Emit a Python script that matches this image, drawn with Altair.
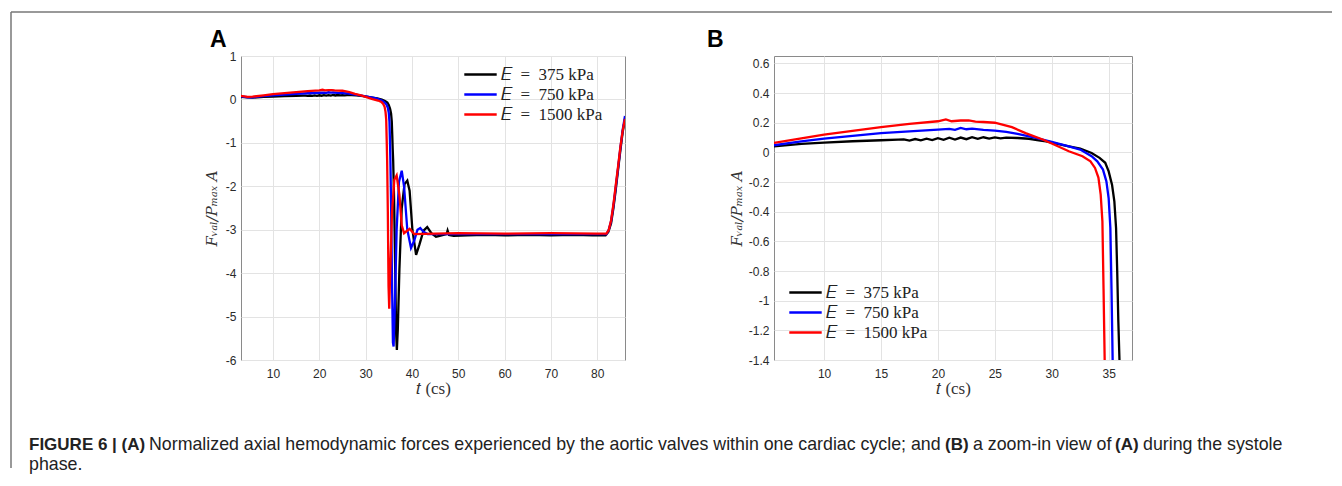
import altair as alt
import pandas as pd

# ---------------- data ----------------
series_names = ["\U0001D438\u2002=\u2002375 kPa", "\U0001D438\u2002=\u2002750 kPa", "\U0001D438\u2002=\u20021500 kPa"]
series_colors = ["#000000", "#0000ff", "#ff0000"]

t_375 = [3, 4.5, 5.6, 8, 10, 12.5, 15, 16.5, 17, 17.5, 18, 18.5, 19, 19.5, 20, 20.5, 21, 21.5, 22, 22.5,
         23, 23.5, 24, 24.5, 25, 25.5, 26, 27, 28, 29, 29.5, 30.5, 31.5, 32.5, 33.5, 34.2, 34.7, 35.0, 35.3,
         35.5, 35.65, 35.75, 35.85, 35.95, 36.15, 36.4, 36.6, 36.75, 36.95, 37.3, 37.8, 38.4, 39.0, 39.5,
         40.1, 40.9, 41.6, 42.5, 43.3, 44.2, 45.2, 46.0, 46.8, 47.5, 47.7, 48.0, 49, 52, 56, 60, 65, 70, 75,
         79, 81.8, 82.4, 83, 83.5, 84, 84.5, 85, 85.5, 86]
f_375 = [0.06, 0.045, 0.041, 0.058, 0.066, 0.075, 0.082, 0.086, 0.088, 0.08, 0.09, 0.081, 0.093, 0.083,
         0.096, 0.085, 0.099, 0.087, 0.1, 0.089, 0.102, 0.091, 0.102, 0.093, 0.101, 0.095, 0.1, 0.097, 0.092,
         0.08, 0.075, 0.057, 0.041, 0.026, -0.004, -0.037, -0.07, -0.128, -0.22, -0.33, -0.51, -0.8, -1.14,
         -1.4, -2.3, -4.0, -5.4, -5.77, -5.3, -3.9, -2.5, -1.95, -1.87, -2.1, -3.0, -3.58, -3.35, -3.02,
         -2.94, -3.08, -3.16, -3.14, -3.12, -3.1, -3.02, -3.12, -3.14, -3.13, -3.12, -3.13, -3.12, -3.13,
         -3.12, -3.13, -3.13, -3.05, -2.85, -2.5, -2.08, -1.62, -1.17, -0.75, -0.45]

t_750 = [3, 4.5, 5.6, 8, 10, 12.5, 15, 17.5, 20, 21, 21.5, 22, 22.5, 23, 24, 25, 26, 27, 28.5, 30, 31.5,
         32.5, 33.5, 34, 34.5, 34.8, 35.0, 35.15, 35.25, 35.35, 35.5, 35.7, 35.9, 36.05, 36.3, 36.7, 37.2,
         37.8, 38.3, 39.0, 39.8, 40.5, 41.2, 41.8, 42.5, 43.4, 45, 50, 60, 70, 80, 82, 82.5, 83, 83.5, 84,
         84.5, 85, 85.5, 86]
f_750 = [0.07, 0.05, 0.048, 0.075, 0.093, 0.112, 0.13, 0.142, 0.154, 0.158, 0.152, 0.165, 0.156, 0.16,
         0.152, 0.147, 0.138, 0.125, 0.1, 0.071, 0.041, 0.019, -0.026, -0.06, -0.116, -0.195, -0.31, -0.51,
         -0.92, -1.4, -2.4, -4.2, -5.6, -5.69, -4.8, -3.0, -1.9, -1.64, -2.0, -3.0, -3.42, -3.25, -3.0,
         -2.96, -3.05, -3.1, -3.1, -3.1, -3.1, -3.1, -3.1, -3.1, -3.0, -2.8, -2.45, -2.02, -1.58, -1.12,
         -0.7, -0.38]

t_1500 = [3, 4.5, 5.6, 8, 10, 12.5, 15, 17.5, 20, 20.7, 21.2, 22, 22.7, 23.3, 24, 25, 26.5, 27.7, 29.2, 30,
          31.5, 32.7, 33.4, 33.8, 34.1, 34.3, 34.45, 34.55, 34.65, 34.8, 34.95, 35.1, 35.3, 35.7, 36.2,
          36.7, 37.3, 37.8, 38.3, 38.9, 39.5, 40.5, 45, 50, 60, 70, 80, 82, 82.5, 83, 83.5, 84, 84.5, 85,
          85.5, 86]
f_1500 = [0.085, 0.06, 0.064, 0.095, 0.12, 0.145, 0.17, 0.192, 0.21, 0.222, 0.21, 0.215, 0.216, 0.208,
          0.205, 0.2, 0.17, 0.13, 0.087, 0.06, 0.008, -0.026, -0.06, -0.105, -0.17, -0.285, -0.465, -0.92,
          -1.4, -2.6, -4.3, -4.82, -4.0, -2.6, -1.85, -1.75, -2.2, -2.9, -3.08, -3.03, -2.98, -3.1, -3.09,
          -3.08, -3.09, -3.08, -3.09, -3.09, -3.0, -2.78, -2.42, -1.98, -1.55, -1.1, -0.72, -0.45]

xticks_A = [10, 20, 30, 40, 50, 60, 70, 80]
yticks_A = [-6, -5, -4, -3, -2, -1, 0, 1]
xticks_B = [10, 15, 20, 25, 30, 35]
yticks_B = [-1.4, -1.2, -1, -0.8, -0.6, -0.4, -0.2, 0, 0.2, 0.4, 0.6]

panel_labels = ["A", "B"]
caption_line1 = ["FIGURE 6 | (A)",
                 "Normalized axial hemodynamic forces experienced by the aortic valves within one cardiac cycle; and",
                 "(B)", "a zoom-in view of", "(A)", "during the systole"]
caption_line2 = "phase."

rows = []
k = 0
for name, ts, fs in zip(series_names, [t_375, t_750, t_1500], [f_375, f_750, f_1500]):
    for t, f in zip(ts, fs):
        rows.append({"series": name, "t": t, "F": f, "ord": k})
        k += 1
df = pd.DataFrame(rows)

one = pd.DataFrame({"k": [0]})

# ---------------- styles ----------------
minus_fix = "replace(datum.label, '\u2212', '-')"

def x_axis(vals):
    return alt.Axis(values=vals, grid=True, gridColor="#e3e3e3", ticks=False, domain=False,
                    labelFont="Liberation Sans", labelFontSize=12, labelColor="#2a2a2a",
                    labelPadding=8, labelExpr=minus_fix, format=".2~f",
                    title="\U0001D461 (cs)", titleFont="Liberation Serif", titleFontSize=17,
                    titleFontWeight="normal", titleColor="#333333",
                    titleBaseline="alphabetic", titleY=33)

def y_axis(vals, tx):
    return alt.Axis(values=vals, grid=True, gridColor="#e3e3e3", ticks=False, domain=False,
                    labelFont="Liberation Sans", labelFontSize=12, labelColor="#2a2a2a",
                    labelPadding=5, labelExpr=minus_fix, format=".2~f",
                    title="F\u1d65\u2090\u2097/P\u2098\u2090\u2093 A", titleFont="DejaVu Serif",
                    titleFontStyle="italic", titleFontWeight="normal", titleFontSize=15,
                    titleColor="#333333", titleX=tx, titleY=152)

def legend(lx, ly):
    return alt.Legend(orient="none", legendX=lx, legendY=ly, title=None,
                      symbolType="M-2.7,0H2.7", symbolSize=144, symbolStrokeWidth=2.5,
                      labelFont="Liberation Serif", labelFontSize=17, labelColor="#222222",
                      labelOffset=12, rowPadding=2, padding=0)

color_scale = alt.Scale(domain=series_names, range=series_colors)

def lines(xdom, ydom, xt, yt, tx, lx, ly):
    return alt.Chart(df).mark_line(strokeWidth=2.3, clip=True).encode(
        x=alt.X("t:Q", scale=alt.Scale(domain=xdom, nice=False, zero=False), axis=x_axis(xt)),
        y=alt.Y("F:Q", scale=alt.Scale(domain=ydom, nice=False, zero=False), axis=y_axis(yt, tx)),
        color=alt.Color("series:N", scale=color_scale, legend=legend(lx, ly)),
        order=alt.Order("ord:Q"),
    )

def panel_label(txt, x, y):
    return alt.Chart(pd.DataFrame({"label": [txt]})).mark_text(
        font="Liberation Sans", fontWeight="bold", fontSize=23, align="left",
        baseline="alphabetic", color="#000000").encode(
        x=alt.value(x), y=alt.value(y), text="label:N")

def cap_text(txt, x, y, bold):
    return alt.Chart(pd.DataFrame({"s": [txt]})).mark_text(
        font="Liberation Sans", fontWeight="bold" if bold else "normal",
        fontSize=17 if bold else 17.8,
        align="left", baseline="alphabetic", color="#222222").encode(
        x=alt.value(x), y=alt.value(y), text="s:N")

frame_top = alt.Chart(one).mark_rule(color="#777777", strokeWidth=1.5).encode(
    x=alt.value(-230), x2=alt.value(1091), y=alt.value(-44))
frame_left = alt.Chart(one).mark_rule(color="#777777", strokeWidth=1.5).encode(
    x=alt.value(-230), y=alt.value(-44), y2=alt.value(412))

cap_x = [-212, -92, 704, 732, 874, 902]
cap_bold = [True, False, True, False, True, False]
caps = [cap_text(s, x, 394, b) for s, x, b in zip(caption_line1, cap_x, cap_bold)]
caps.append(cap_text(caption_line2, -212, 414, False))

panel_A = alt.layer(
    lines([3.1, 86], [-6, 1], xticks_A, yticks_A, -22, 231, 10),
    panel_label(panel_labels[0], -31, -9),
    frame_top, frame_left, *caps,
).properties(width=384, height=304)

panel_B = alt.layer(
    lines([5.6, 37.05], [-1.4, 0.65], xticks_B, yticks_B, -30, 23, 228),
    panel_label(panel_labels[1], -67, -9),
).properties(width=358, height=304)

chart = alt.hconcat(panel_A, panel_B, spacing=149, bounds="flush").resolve_scale(
    color="independent"
).properties(
    padding={"left": 1, "top": 2, "right": 0, "bottom": 0}
).configure_view(stroke="#8a8a8a", strokeWidth=1)

chart.save("out.html", embed_options={"renderer": "svg", "actions": False})
